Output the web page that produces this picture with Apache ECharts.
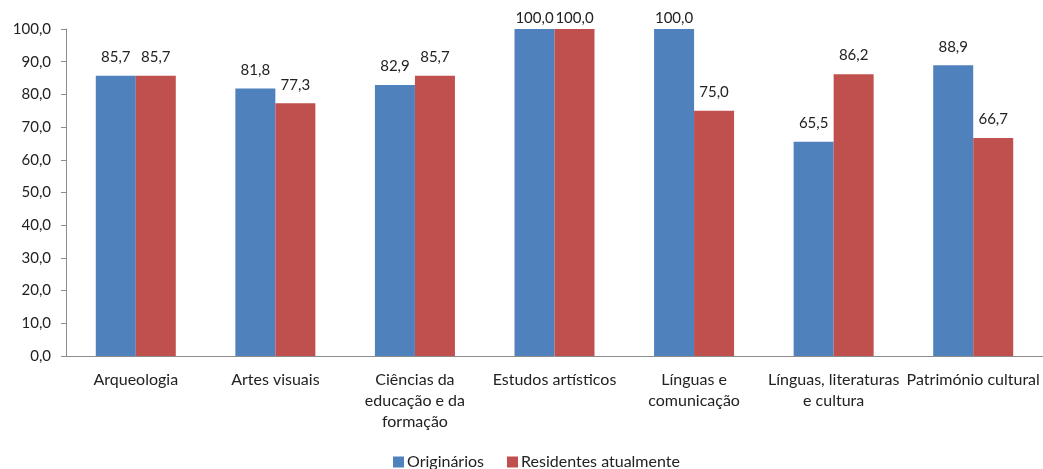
<!DOCTYPE html>
<html>
<head>
<meta charset="utf-8">
<script src="https://cdn.jsdelivr.net/npm/echarts@6/dist/echarts.min.js"></script>
<style>
  html, body { margin: 0; padding: 0; background: #fff; }
  #chart { width: 1043px; height: 469px; }
</style>
</head>
<body>
<div id="chart"></div>
<script>
const categories = [
  'Arqueologia',
  'Artes visuais',
  'Ciências da\neducação e da\nformação',
  'Estudos artísticos',
  'Línguas e\ncomunicação',
  'Línguas, literaturas\ne cultura',
  'Património cultural'
]
const originarios = [85.7, 81.8, 82.9, 100.0, 100.0, 65.5, 88.9]
const residentes = [85.7, 77.3, 85.7, 100.0, 75.0, 86.2, 66.7]
const seriesNames = ['Originários', 'Residentes atualmente']

const fmt = (v) => v.toFixed(1).replace('.', ',')
const font = 'Lato, "Open Sans", sans-serif'

const chart = echarts.init(document.getElementById('chart'))

const barLabel = {
  show: true,
  position: 'top',
  distance: 11,
  color: '#222',
  fontSize: 15,
  fontFamily: font,
  formatter: ({ value }) => fmt(value)
}

// labels at the top of the plot sit closer to the bar, as in the original
const withLabels = (arr) => arr.map(v => v >= 100 ? { value: v, label: { distance: 3 } } : v)

chart.setOption({
  animation: false,
  textStyle: { fontFamily: font },
  grid: { left: 66, right: 0, top: 29, bottom: 113 },
  legend: {
    bottom: -6,
    left: 388,
    itemWidth: 11,
    itemHeight: 11,
    itemGap: 23,
    icon: 'rect',
    textStyle: { color: '#222', fontSize: 16, fontFamily: font, padding: [0, 0, 0, -2] },
    data: seriesNames
  },
  xAxis: {
    type: 'category',
    data: categories,
    axisLine: { lineStyle: { color: '#8c8c8c' } },
    axisTick: { length: 6, lineStyle: { color: '#8c8c8c' } },
    axisLabel: {
      interval: 0,
      color: '#222',
      fontSize: 16,
      lineHeight: 21,
      margin: 13,
      fontFamily: font
    }
  },
  yAxis: {
    type: 'value',
    min: 0,
    max: 100,
    interval: 10,
    axisLine: { show: true, lineStyle: { color: '#8c8c8c' } },
    axisTick: { show: true, length: 5, lineStyle: { color: '#8c8c8c' } },
    splitLine: { show: false },
    axisLabel: {
      color: '#222',
      fontSize: 15,
      margin: 15,
      fontFamily: font,
      formatter: (v) => fmt(v)
    }
  },
  series: [
    {
      name: seriesNames[0],
      type: 'bar',
      data: withLabels(originarios),
      barWidth: 40,
      barGap: '0%',
      itemStyle: { color: '#4F81BD' },
      label: barLabel
    },
    {
      name: seriesNames[1],
      type: 'bar',
      data: withLabels(residentes),
      barWidth: 40,
      itemStyle: { color: '#C0504D' },
      label: barLabel
    }
  ]
})
</script>
</body>
</html>
